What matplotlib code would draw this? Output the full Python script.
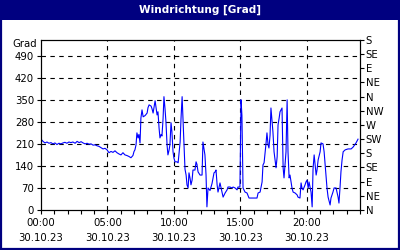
import matplotlib.pyplot as plt
from matplotlib.patches import Rectangle

# minutes since 00:00 on 30.10.23 and wind direction in degrees
minutes = [0, 9, 18, 27, 36, 45, 54, 63, 72, 81, 90, 99, 108, 117, 126, 135, 144, 154, 163, 172,
           181, 190, 199, 208, 217, 226, 235, 244, 253, 262, 271, 280, 289, 298, 307, 316, 325, 334, 343, 352,
           361, 370, 379, 388, 397, 406, 415, 420, 424, 429, 433, 438, 442, 447, 451, 456, 461, 470, 479, 483,
           488, 497, 501, 506, 515, 524, 528, 533, 537, 542, 546, 551, 555, 560, 564, 569, 573, 578, 582, 587,
           591, 596, 600, 605, 614, 619, 628, 632, 637, 641, 646, 650, 655, 659, 664, 668, 673, 677, 682, 686,
           695, 700, 704, 709, 718, 727, 731, 740, 745, 749, 754, 763, 772, 777, 781, 786, 790, 795, 799, 808,
           817, 822, 831, 840, 844, 853, 862, 867, 876, 885, 889, 898, 903, 907, 912, 921, 930, 939, 948, 957,
           966, 975, 980, 989, 998, 1002, 1007, 1016, 1020, 1025, 1029, 1034, 1038, 1043, 1047, 1052, 1061, 1066, 1070, 1075,
           1079, 1088, 1093, 1097, 1106, 1111, 1115, 1120, 1124, 1133, 1138, 1147, 1156, 1160, 1169, 1174, 1178, 1183, 1192, 1196,
           1201, 1206, 1210, 1219, 1224, 1228, 1233, 1237, 1242, 1246, 1251, 1260, 1264, 1273, 1278, 1287, 1291, 1296, 1305, 1309,
           1318, 1323, 1332, 1341, 1345, 1350, 1354, 1359, 1364, 1373, 1386, 1400, 1409, 1422, 1431]
degrees = [225, 218, 213, 216, 212, 214, 210, 213, 208, 212, 210, 213, 215, 212, 216, 214, 216, 212, 218, 214,
           217, 213, 210, 212, 209, 210, 206, 207, 204, 202, 198, 194, 196, 191, 182, 186, 183, 188, 182, 178,
           175, 182, 175, 173, 170, 166, 173, 186, 191, 207, 245, 229, 240, 213, 292, 318, 296, 300, 308, 325,
           334, 330, 322, 308, 347, 302, 312, 260, 229, 240, 235, 290, 360, 320, 280, 207, 175, 190, 207, 277,
           248, 185, 165, 153, 153, 150, 216, 290, 360, 292, 200, 130, 111, 80, 70, 118, 100, 80, 95, 127,
           127, 153, 145, 121, 111, 111, 216, 175, 111, 10, 70, 62, 84, 102, 118, 121, 127, 80, 57, 86,
           57, 41, 54, 64, 73, 73, 70, 73, 70, 64, 73, 73, 350, 300, 70, 57, 54, 38, 38, 38,
           38, 38, 54, 57, 89, 143, 150, 213, 245, 207, 197, 238, 324, 280, 248, 185, 134, 169, 270, 292,
           312, 324, 134, 102, 185, 350, 185, 102, 111, 70, 57, 54, 48, 41, 38, 86, 70, 64, 80, 89,
           95, 70, 89, 57, 10, 130, 175, 148, 111, 127, 159, 185, 213, 210, 185, 105, 70, 41, 16, 38,
           57, 70, 70, 41, 22, 73, 121, 159, 185, 191, 194, 194, 200, 213, 225]

deg_ticks = [0, 70, 140, 210, 280, 350, 420, 490]
compass_ticks = [0, 45, 90, 135, 180, 225, 270, 315, 360, 405, 450, 495, 540]
compass_labels = ['N', 'NE', 'E', 'SE', 'S', 'SW', 'W', 'NW', 'N', 'NE', 'E', 'SE', 'S']
hour_ticks = [0, 5, 10, 15, 20]
hour_labels = ['00:00\n30.10.23', '05:00\n30.10.23', '10:00\n30.10.23', '15:00\n30.10.23', '20:00\n30.10.23']

NAVY = '#000080'

plt.rcParams['font.family'] = 'DejaVu Sans'
plt.rcParams['font.size'] = 7.3

fig = plt.figure(figsize=(4, 2.5), dpi=100)
fig.patch.set_facecolor('white')

# title bar and outer frame
fig.patches.append(Rectangle((0, 0.92), 1, 0.08, transform=fig.transFigure,
                             facecolor=NAVY, edgecolor='none', zorder=0))
fig.patches.append(Rectangle((0.002, 0.004), 0.996, 0.994, transform=fig.transFigure,
                             facecolor='none', edgecolor=NAVY, linewidth=1.6, zorder=1))
fig.text(0.5, 0.962, 'Windrichtung [Grad]', color='white', fontsize=7.6, fontweight='bold',
         ha='center', va='center')

ax = fig.add_axes([0.1025, 0.16, 0.7975, 0.68])
hours = [m / 60 for m in minutes]
ax.plot(hours, degrees, color='#0000ff', linewidth=0.8)

ax.set_xlim(0, 24)
ax.set_ylim(0, 540)
ax.set_xticks(hour_ticks)
ax.set_xticklabels(hour_labels, linespacing=1.55)
ax.set_xticks(range(0, 25), minor=True)
ax.set_yticks(deg_ticks)
ax.tick_params(axis='both', which='both', direction='out', length=3, width=0.8, pad=2, colors='black')
ax.tick_params(axis='x', pad=3)

for h in hour_ticks[1:]:
    ax.axvline(h, color='black', linewidth=0.8, linestyle=(0, (4, 4)), zorder=1)
for d in deg_ticks[1:]:
    ax.axhline(d, color='black', linewidth=0.8, linestyle=(0, (4, 4)), zorder=1)

for s in ax.spines.values():
    s.set_linewidth(0.8)

ax.text(-0.012, 526, 'Grad', transform=ax.get_yaxis_transform(), ha='right', va='center')

ax2 = ax.twinx()
ax2.set_ylim(0, 540)
ax2.set_yticks(compass_ticks)
ax2.set_yticklabels(compass_labels)
ax2.tick_params(axis='y', direction='out', length=3, width=0.8, pad=1)

plt.savefig('out.png', dpi=100)
